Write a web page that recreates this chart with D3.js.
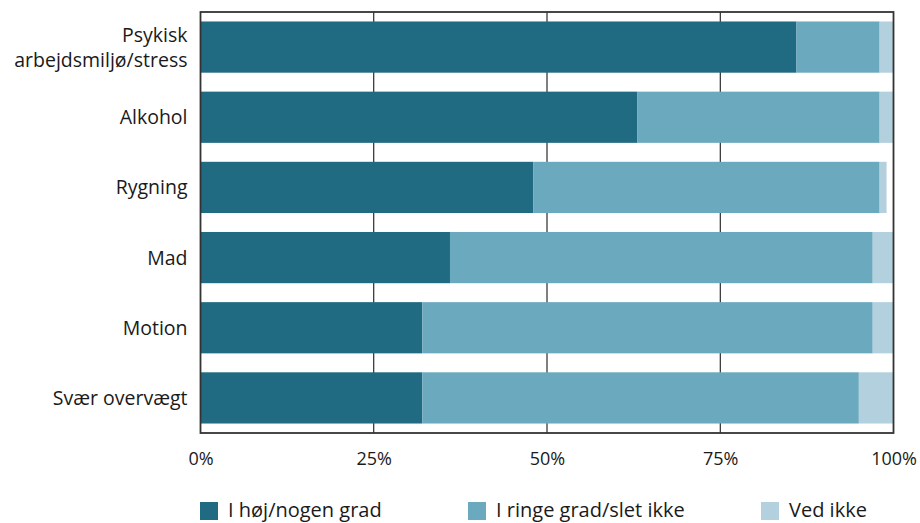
<!DOCTYPE html>
<html>
<head>
<meta charset="utf-8">
<script src="https://cdn.jsdelivr.net/npm/d3@7"></script>
<style>
html,body{margin:0;padding:0;background:#fff;}
svg{display:block;}
text{font-family:"Open Sans",Lato,sans-serif;fill:#1a1a1a;}
</style>
</head>
<body>
<svg id="chart" width="920" height="523"></svg>
<script>
const categories = ["Psykisk\narbejdsmiljø/stress","Alkohol","Rygning","Mad","Motion","Svær overvægt"];
const seriesNames = ["I høj/nogen grad","I ringe grad/slet ikke","Ved ikke"];
const hoej   = [86, 63, 48, 36, 32, 32];
const ringe  = [12, 35, 50, 61, 65, 63];
const vedIkke= [2, 2, 1, 3, 3, 5];
const tickValues = [0, 25, 50, 75, 100];
const tickLabels = ["0%","25%","50%","75%","100%"];
const colors = ["#206b82","#6baabe","#b3d0de"];

const FONT = "'Open Sans', Lato, sans-serif";
const svg = d3.select("#chart");
const m = {left:200.5, right:893.5, top:12, bottom:433};

const x = d3.scaleLinear().domain([0,100]).range([m.left, m.right]);
const y = d3.scaleBand().domain(categories).range([m.top, m.bottom])
  .paddingInner(0.27).paddingOuter(0.135);

const rows = categories.map((c,i)=>({cat:c, v:[hoej[i], ringe[i], vedIkke[i]]}));
const stack = d3.stack().keys([0,1,2]).value((d,k)=>d.v[k]);
const layers = stack(rows);

// gridlines
svg.append("g").selectAll("line").data(tickValues.slice(1,4)).join("line")
  .attr("x1",d=>x(d)).attr("x2",d=>x(d))
  .attr("y1",m.top).attr("y2",m.bottom)
  .attr("stroke","#000").attr("stroke-width",1);

// bars
svg.append("g").selectAll("g").data(layers).join("g")
  .attr("fill",(d,i)=>colors[i])
  .selectAll("rect").data(d=>d).join("rect")
  .attr("x",d=>x(d[0]))
  .attr("width",d=>x(d[1])-x(d[0]))
  .attr("y",d=>y(d.data.cat))
  .attr("height",y.bandwidth());

// frame
svg.append("rect").attr("x",m.left).attr("y",m.top)
  .attr("width",m.right-m.left).attr("height",m.bottom-m.top)
  .attr("fill","none").attr("stroke","#333").attr("stroke-width",1.8);

// x axis labels
const xAxis = d3.axisBottom(x).tickValues(tickValues)
  .tickFormat((d,i)=>tickLabels[i]).tickSize(0).tickPadding(0);
const gx = svg.append("g").attr("transform",`translate(0,${m.bottom})`).call(xAxis);
gx.select(".domain").remove();
gx.selectAll("text").attr("y",32).attr("dy",0)
  .style("font-family",FONT).style("font-size","18px").attr("fill","#1a1a1a");

// y axis labels
const yAxis = d3.axisLeft(y).tickSize(0).tickPadding(13);
const gy = svg.append("g").attr("transform",`translate(${m.left},0)`).call(yAxis);
gy.select(".domain").remove();
gy.selectAll("text").each(function(d){
  const t = d3.select(this);
  const lines = d.split("\n");
  t.text(null).attr("dy",null).attr("y",0)
   .style("font-family",FONT).style("font-size","19.5px").attr("fill","#1a1a1a");
  const lh = 25;
  const off = -(lines.length-1)*lh/2 + 7;
  lines.forEach((ln,k)=>{
    t.append("tspan").attr("x",-13).attr("y",off + k*lh).text(ln);
  });
});

// legend
const legX = [200, 468, 761];
const lg = svg.append("g").selectAll("g").data(seriesNames).join("g")
  .attr("transform",(d,i)=>`translate(${legX[i]},502)`);
lg.append("rect").attr("width",18).attr("height",18).attr("fill",(d,i)=>colors[i]);
lg.append("text").attr("x",28).attr("y",15)
  .style("font-family",FONT).style("font-size","20px").text(d=>d);
</script>
</body>
</html>
